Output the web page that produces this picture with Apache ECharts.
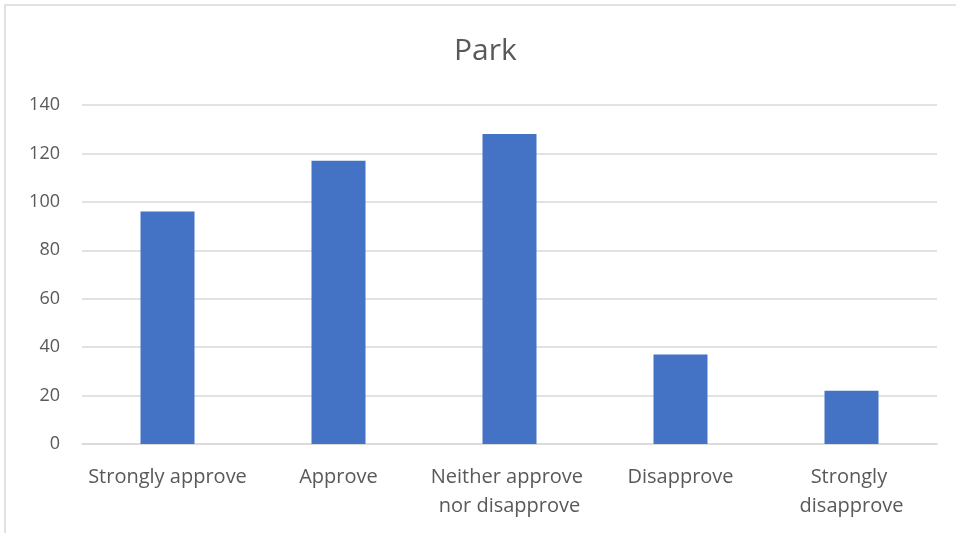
<!DOCTYPE html>
<html>
<head>
<meta charset="utf-8">
<script src="https://cdn.jsdelivr.net/npm/echarts@6/dist/echarts.min.js"></script>
<style>
html,body{margin:0;padding:0;background:#fff;}
#chart{width:956px;height:533px;}
</style>
</head>
<body>
<div id="chart"></div>
<script>
const title = 'Park';
const categories = ['Strongly approve', 'Approve', 'Neither approve nor disapprove', 'Disapprove', 'Strongly disapprove'];
const values = [96, 117, 128, 37, 22];
const yTicks = [0, 20, 40, 60, 80, 100, 120, 140];

const chart = echarts.init(document.getElementById('chart'), null, {renderer: 'canvas'});
const fontFam = '"Open Sans", "Noto Sans", sans-serif';
chart.setOption({
  backgroundColor: '#fff',
  animation: false,
  graphic: [{
    type: 'rect',
    shape: {x: 5, y: 5, width: 1200, height: 1200},
    style: {fill: 'none', stroke: '#d9d9d9', lineWidth: 1.5},
    silent: true
  }],
  title: {
    text: title,
    left: 449,
    top: 31,
    textStyle: {fontFamily: fontFam, fontSize: 30, fontWeight: 'normal', color: '#595959'}
  },
  grid: {left: 82, right: 19, top: 105, bottom: 89, containLabel: false},
  xAxis: {
    type: 'category',
    data: categories,
    axisLine: {show: true, lineStyle: {color: '#d9d9d9', width: 1.5}},
    axisTick: {show: false},
    axisLabel: {
      interval: 0,
      margin: 19,
      width: 172,
      overflow: 'break',
      lineHeight: 29,
      fontFamily: fontFam,
      fontSize: 20,
      color: '#595959'
    }
  },
  yAxis: {
    type: 'value',
    min: yTicks[0],
    max: yTicks[yTicks.length - 1],
    interval: 20,
    axisLine: {show: false},
    axisTick: {show: false},
    splitLine: {lineStyle: {color: '#d9d9d9', width: 1.5}},
    axisLabel: {
      margin: 22,
      fontFamily: fontFam,
      fontSize: 18,
      color: '#595959'
    }
  },
  series: [{
    type: 'bar',
    data: values,
    barWidth: 54,
    itemStyle: {color: '#4472C4'}
  }]
});
</script>
</body>
</html>
